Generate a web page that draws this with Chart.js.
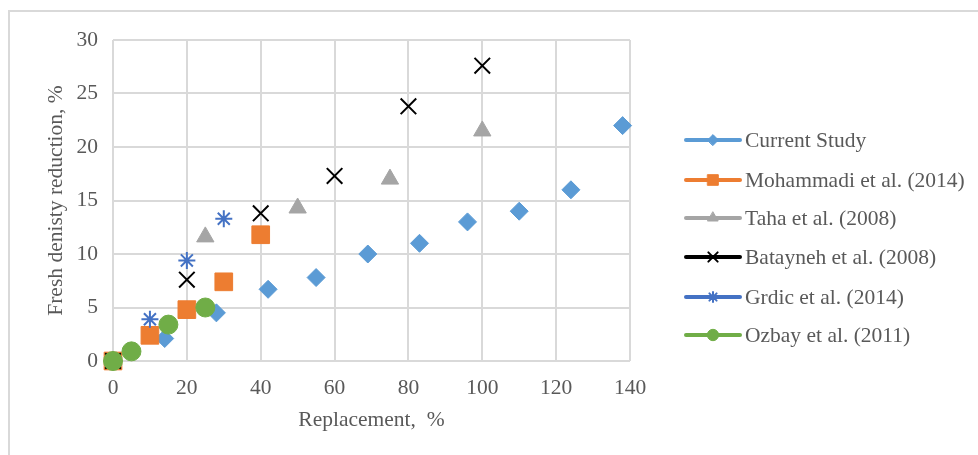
<!DOCTYPE html>
<html>
<head>
<meta charset="utf-8">
<script src="https://cdn.jsdelivr.net/npm/chart.js@4"></script>
<style>
  html, body { margin: 0; padding: 0; background: #fff; }
  #wrap { position: relative; width: 978px; height: 455px; overflow: hidden; }
  #frame { position: absolute; left: 8px; top: 10px; width: 1200px; height: 800px;
           border-top: 2px solid #d9d9d9; border-left: 2px solid #d9d9d9; box-sizing: border-box; }
  canvas { position: absolute; left: 0; top: 0; }
</style>
</head>
<body>
<div id="wrap">
  <div id="frame"></div>
  <canvas id="chart" width="978" height="455"></canvas>
</div>
<script>
// 数据
const seriesNames = ['Current Study', 'Mohammadi et al. (2014)', 'Taha et al. (2008)',
                     'Batayneh et al. (2008)', 'Grdic et al. (2014)', 'Ozbay et al. (2011)'];

const currentX = [0, 14, 28, 42, 55, 69, 83, 96, 110, 124, 138];
const currentY = [0, 2.1, 4.5, 6.7, 7.8, 10.0, 11.0, 13.0, 14.0, 16.0, 22.0];

const mohammadiX = [0, 10, 20, 30, 40];
const mohammadiY = [0, 2.4, 4.8, 7.4, 11.8];

const tahaX = [0, 25, 50, 75, 100];
const tahaY = [0, 11.6, 14.3, 17.0, 21.5];

const bataynehX = [0, 20, 40, 60, 80, 100];
const bataynehY = [0, 7.6, 13.8, 17.3, 23.8, 27.6];

const grdicX = [0, 10, 20, 30];
const grdicY = [0, 3.9, 9.4, 13.3];

const ozbayX = [0, 5, 15, 25];
const ozbayY = [0, 0.9, 3.4, 5.0];

const xTicks = [0, 20, 40, 60, 80, 100, 120, 140];
const yTicks = [0, 5, 10, 15, 20, 25, 30];

const FONT = "'Liberation Serif', 'Times New Roman', serif";
const FSIZE = 21.5;
const TEXT = '#595959';

function pts(xs, ys) {
    return xs.map((x, i) => ({ x: x, y: ys[i] }));
}

const styles = [
    { color: '#5b9bd5', pointStyle: 'rectRot', radius: 9, bw: 1 },
    { color: '#ed7d31', pointStyle: 'rect', radius: 12.5, bw: 1 },
    { color: '#a5a5a5', pointStyle: 'triangle', radius: 10, bw: 1 },
    { color: '#000000', pointStyle: 'crossRot', radius: 11, bw: 2 },
    { color: '#4472c4', pointStyle: 'star', radius: 8.5, bw: 2 },
    { color: '#70ad47', pointStyle: 'circle', radius: 9.5, bw: 1 }
];

const allData = [
    pts(currentX, currentY), pts(mohammadiX, mohammadiY), pts(tahaX, tahaY),
    pts(bataynehX, bataynehY), pts(grdicX, grdicY), pts(ozbayX, ozbayY)
];

const datasets = seriesNames.map((name, i) => ({
    label: name,
    data: allData[i],
    showLine: false,
    clip: false,
    pointStyle: styles[i].pointStyle,
    pointRadius: styles[i].radius,
    pointBackgroundColor: styles[i].color,
    pointBorderColor: styles[i].color,
    pointBorderWidth: styles[i].bw,
    order: seriesNames.length - i   // 后面的系列画在上面
}));

// 自定义图例：线 + 标记（Excel 风格）
const excelLegend = {
    id: 'excelLegend',
    afterDraw(chart) {
        const ctx = chart.ctx;
        const x0 = 686, x1 = 740, tx = 745;
        const ys = [140, 180, 218, 257, 297, 335];
        ctx.save();
        seriesNames.forEach((name, i) => {
            const y = ys[i];
            const s = styles[i];
            ctx.strokeStyle = s.color;
            ctx.lineWidth = 4;
            ctx.lineCap = 'round';
            ctx.beginPath();
            ctx.moveTo(x0, y);
            ctx.lineTo(x1, y);
            ctx.stroke();
            ctx.fillStyle = s.color;
            ctx.strokeStyle = s.color;
            ctx.lineWidth = s.bw;
            Chart.helpers.drawPoint(ctx, { pointStyle: s.pointStyle, radius: s.radius * 0.6, borderWidth: s.bw, rotation: 0 }, (x0 + x1) / 2, y);
            ctx.fillStyle = TEXT;
            ctx.font = FSIZE + 'px ' + FONT;
            ctx.textBaseline = 'middle';
            ctx.textAlign = 'left';
            ctx.fillText(name, tx, y + 1);
        });
        ctx.restore();
    }
};

new Chart(document.getElementById('chart'), {
    type: 'scatter',
    data: { datasets: datasets },
    options: {
        responsive: false,
        animation: false,
        layout: { padding: { left: 39, top: 40, right: 348, bottom: 18 } },
        plugins: {
            legend: { display: false },
            tooltip: { enabled: false }
        },
        scales: {
            x: {
                type: 'linear',
                min: 0,
                max: 140,
                afterBuildTicks: (s) => { s.ticks = xTicks.map(v => ({ value: v })); },
                afterFit: (s) => { s.height = 76; },
                grid: { color: '#d9d9d9', lineWidth: 2, drawTicks: false },
                border: { display: false },
                ticks: { color: TEXT, font: { family: FONT, size: FSIZE }, padding: 14, maxRotation: 0 },
                title: { display: true, text: 'Replacement,  %', color: TEXT,
                         font: { family: FONT, size: FSIZE }, padding: { top: 4, bottom: 4 } }
            },
            y: {
                type: 'linear',
                min: 0,
                max: 30,
                afterBuildTicks: (s) => { s.ticks = yTicks.map(v => ({ value: v })); },
                afterFit: (s) => { s.width = 74; },
                grid: { color: '#d9d9d9', lineWidth: 2, drawTicks: false },
                border: { display: false },
                ticks: { color: TEXT, font: { family: FONT, size: FSIZE }, padding: 15 },
                title: { display: true, text: 'Fresh denisty reduction, %', color: TEXT,
                         font: { family: FONT, size: FSIZE }, padding: { top: 4, bottom: 4 } }
            }
        }
    },
    plugins: [excelLegend]
});
</script>
</body>
</html>
